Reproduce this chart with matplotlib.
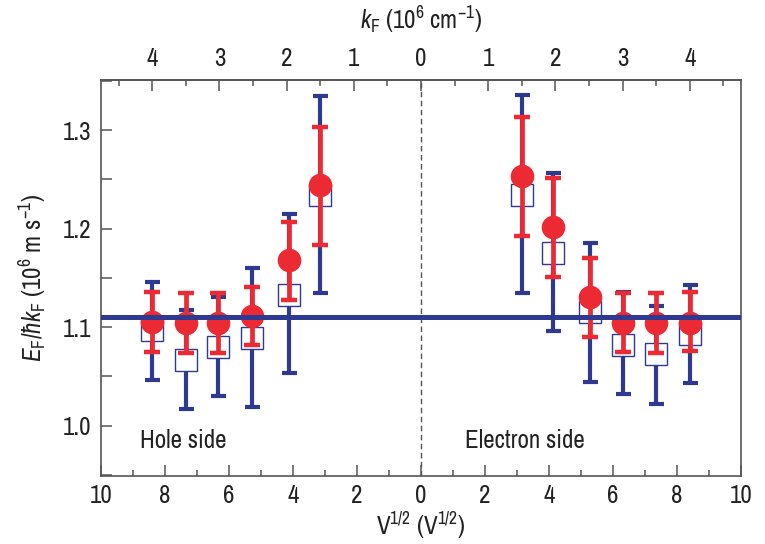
import matplotlib
matplotlib.use("Agg")
import matplotlib.pyplot as plt
from matplotlib import font_manager
from matplotlib.ticker import MultipleLocator, FuncFormatter
import numpy as np

# ---- data ----
hole_v = [-8.42, -7.34, -6.33, -5.28, -4.12, -3.16]
elec_v = [3.15, 4.12, 5.28, 6.30, 7.33, 8.41]

hole_red = [1.1055, 1.1039, 1.1045, 1.1113, 1.1681, 1.2442]
hole_red_hi = [1.1360, 1.1343, 1.1343, 1.1410, 1.2070, 1.3034]
hole_red_lo = [1.0751, 1.0735, 1.0741, 1.0819, 1.1276, 1.1833]
hole_blue = [1.0969, 1.0667, 1.0798, 1.0887, 1.1326, 1.2346]
hole_blue_hi = [1.1461, 1.1174, 1.1303, 1.1597, 1.2145, 1.3348]
hole_blue_lo = [1.0464, 1.0166, 1.0301, 1.0187, 1.0532, 1.1343]

elec_red = [1.2534, 1.2013, 1.1309, 1.1045, 1.1039, 1.1045]
elec_red_hi = [1.3135, 1.2516, 1.1705, 1.1343, 1.1343, 1.1360]
elec_red_lo = [1.1928, 1.1512, 1.0903, 1.0751, 1.0741, 1.0761]
elec_blue = [1.2344, 1.1757, 1.1156, 1.0819, 1.0725, 1.0928]
elec_blue_hi = [1.3355, 1.2561, 1.1851, 1.1353, 1.1218, 1.1431]
elec_blue_lo = [1.1343, 1.0964, 1.0446, 1.0319, 1.0220, 1.0430]

fermi_velocity = 1.11
kf_per_v = 2.1  # V^1/2 per 10^6 cm^-1

# ---- fonts ----
names = sorted({f.name for f in font_manager.fontManager.ttflist})
narrow = [n for n in names if ("Narrow" in n or "Condensed" in n) and "Mono" not in n]
fam = narrow[0] if narrow else "Liberation Sans"
plt.rcParams["font.family"] = [fam, "DejaVu Sans"]
plt.rcParams["mathtext.fontset"] = "custom"
plt.rcParams["mathtext.rm"] = fam
plt.rcParams["mathtext.it"] = fam + ":italic"
plt.rcParams["mathtext.bf"] = fam + ":bold"
FS = 18 if narrow else 16.5

RED = "#ec2a33"
BLUE = "#2e3a92"
SPINE = "#555555"
TXT = "#222222"

fig = plt.figure(figsize=(7.65, 5.44), dpi=100)
ax = fig.add_axes([0.132, 0.125, 0.8366, 0.728])

x = np.array(hole_v + elec_v)
red = np.array(hole_red + elec_red)
red_hi = np.array(hole_red_hi + elec_red_hi)
red_lo = np.array(hole_red_lo + elec_red_lo)
blue = np.array(hole_blue + elec_blue)
blue_hi = np.array(hole_blue_hi + elec_blue_hi)
blue_lo = np.array(hole_blue_lo + elec_blue_lo)

# blue error bars (squares)
ax.errorbar(x, blue, yerr=[blue - blue_lo, blue_hi - blue], fmt="none",
            ecolor=BLUE, elinewidth=3.0, capsize=5.4, capthick=3.0, zorder=1)
ax.plot(x, blue, ls="none", marker="s", markersize=15.5, markerfacecolor="white",
        markeredgecolor=BLUE, markeredgewidth=1.0, zorder=2)
# red error bars (circles)
ax.errorbar(x, red, yerr=[red - red_lo, red_hi - red], fmt="none",
            ecolor=RED, elinewidth=3.4, capsize=5.8, capthick=3.2, zorder=3)
ax.plot(x, red, ls="none", marker="o", markersize=17, markerfacecolor=RED,
        markeredgecolor=RED, markeredgewidth=0, zorder=4)

ax.axhline(fermi_velocity, color=BLUE, lw=3.6, zorder=5)
ax.axvline(0, color="#555555", lw=1.0, ls=(0, (4, 2.5)), zorder=0.5)

ax.set_xlim(-10, 10)
ax.set_ylim(0.949, 1.351)

for s in ax.spines.values():
    s.set_color(SPINE)
    s.set_linewidth(1.2)

ax.xaxis.set_major_locator(MultipleLocator(2))
ax.xaxis.set_minor_locator(MultipleLocator(1))
ax.xaxis.set_major_formatter(FuncFormatter(lambda v, p: f"{abs(v):.0f}"))
ax.yaxis.set_major_locator(MultipleLocator(0.1))
ax.yaxis.set_minor_locator(MultipleLocator(0.05))
ax.yaxis.set_major_formatter(FuncFormatter(lambda v, p: f"{v:.1f}"))

ax.tick_params(axis="x", which="major", direction="in", length=8, width=1.1,
               color=SPINE, labelsize=FS, labelcolor=TXT, pad=6, top=False)
ax.tick_params(axis="x", which="minor", direction="in", length=4, width=1.1,
               color=SPINE, top=False)
ax.tick_params(axis="y", which="both", direction="in", length=8, width=1.1,
               color=SPINE, labelsize=FS, labelcolor=TXT, pad=7, right=False)

ax.set_xlabel(r"V$^{1/2}$ (V$^{1/2}$)", fontsize=FS, color=TXT, labelpad=2)
ax.set_ylabel(r"$E_\mathrm{F}/\hbar k_\mathrm{F}$ (10$^6$ m s$^{-1}$)",
              fontsize=FS, color=TXT, labelpad=10)

top = ax.secondary_xaxis("top", functions=(lambda v: v / kf_per_v,
                                           lambda k: k * kf_per_v))
top.xaxis.set_major_locator(MultipleLocator(1))
top.xaxis.set_minor_locator(MultipleLocator(0.5))
top.xaxis.set_major_formatter(FuncFormatter(lambda v, p: f"{abs(v):.0f}"))
top.tick_params(axis="x", which="major", direction="in", length=8, width=1.1,
                color=SPINE, labelsize=FS, labelcolor=TXT, pad=7)
top.tick_params(axis="x", which="minor", direction="in", length=4, width=1.1,
                color=SPINE)
top.spines["top"].set_color(SPINE)
top.spines["top"].set_linewidth(1.2)
top.set_xlabel(r"$k_\mathrm{F}$ (10$^6$ cm$^{-1}$)", fontsize=FS, color=TXT,
               labelpad=13)

ax.text(-8.78, 0.9855, "Hole side", fontsize=FS, color=TXT, va="center", ha="left")
ax.text(1.37, 0.9855, "Electron side", fontsize=FS, color=TXT, va="center", ha="left")

fig.savefig("out.png", dpi=100)
